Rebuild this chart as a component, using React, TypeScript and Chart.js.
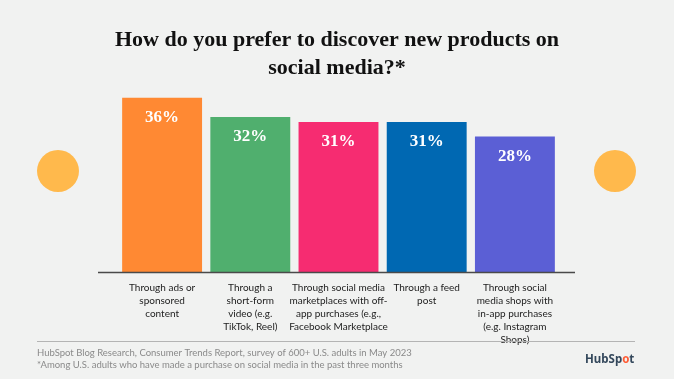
import React, { useEffect, useRef } from "react";
import { Chart, registerables } from "chart.js";

Chart.register(...registerables);

const categories: string[][] = [
  ["Through ads or", "sponsored", "content"],
  ["Through a", "short-form", "video (e.g.", "TikTok, Reel)"],
  ["Through social media", "marketplaces with off-", "app purchases (e.g.,", "Facebook Marketplace"],
  ["Through a feed", "post"],
  ["Through social", "media shops with", "in-app purchases", "(e.g. Instagram", "Shops)"],
];
const values: number[] = [36, 32, 31, 31, 28];
const barColors: string[] = ["#FF8933", "#50AF6E", "#F62C71", "#0068B2", "#5B5FD5"];
const titleLines: string[] = ["How do you prefer to discover new products on", "social media?*"];
const footnotes: string[] = [
  "HubSpot Blog Research, Consumer Trends Report, survey of 600+ U.S. adults in May 2023",
  "*Among U.S. adults who have made a purchase on social media in the past three months",
];

const BG = "#F1F2F1";

const decorPlugin = {
  id: "decor",
  beforeDraw(chart: any) {
    const ctx = chart.ctx;
    ctx.save();
    ctx.fillStyle = BG;
    ctx.fillRect(0, 0, chart.width, chart.height);
    ctx.fillStyle = "#FFB94C";
    ctx.beginPath();
    ctx.arc(58, 171, 21, 0, Math.PI * 2);
    ctx.fill();
    ctx.beginPath();
    ctx.arc(615, 171, 21, 0, Math.PI * 2);
    ctx.fill();
    ctx.restore();
  },
  afterDraw(chart: any) {
    const ctx = chart.ctx;
    const area = chart.chartArea;
    ctx.save();
    ctx.fillStyle = "#111";
    ctx.textAlign = "center";
    ctx.textBaseline = "middle";
    ctx.font = "bold 22px 'Liberation Serif'";
    ctx.fillText(titleLines[0], 337, 40);
    ctx.fillText(titleLines[1], 337, 68);
    ctx.strokeStyle = "#4a4a4a";
    ctx.lineWidth = 1.5;
    ctx.beginPath();
    ctx.moveTo(98, area.bottom + 0.5);
    ctx.lineTo(575, area.bottom + 0.5);
    ctx.stroke();
    const meta = chart.getDatasetMeta(0);
    ctx.fillStyle = "#ffffff";
    ctx.font = "bold 17px 'Liberation Serif'";
    meta.data.forEach((bar: any, i: number) => {
      ctx.fillText(values[i] + "%", bar.x, bar.y + 20);
    });
    ctx.strokeStyle = "#b4b4b4";
    ctx.lineWidth = 1;
    ctx.beginPath();
    ctx.moveTo(37, 341.5);
    ctx.lineTo(635, 341.5);
    ctx.stroke();
    ctx.fillStyle = "#8a8a8a";
    ctx.textAlign = "left";
    ctx.font = "9.5px Lato";
    ctx.fillText(footnotes[0], 37, 353);
    ctx.fillText(footnotes[1], 37, 365);
    ctx.font = "bold 11.5px 'Noto Sans'";
    let x = 585;
    const y = 360;
    const dark = "#33475B";
    const segs: [string, string][] = [["HubSp", dark], ["o", "#FF5C35"], ["t", dark]];
    segs.forEach(([t, c]) => {
      ctx.fillStyle = c;
      ctx.fillText(t, x, y);
      x += ctx.measureText(t).width;
    });
    ctx.restore();
  },
};

export default function App() {
  const ref = useRef<HTMLCanvasElement | null>(null);
  useEffect(() => {
    document.body.style.margin = "0";
    document.body.style.background = BG;
    if (!ref.current) return;
    const chart = new Chart(ref.current, {
      type: "bar",
      data: {
        labels: categories,
        datasets: [
          {
            data: values,
            backgroundColor: barColors,
            borderWidth: 0,
            barPercentage: 0.906,
            categoryPercentage: 1,
          },
        ],
      },
      options: {
        animation: false,
        responsive: false,
        maintainAspectRatio: false,
        layout: { padding: { left: 118, right: 115, top: 88, bottom: 0 } },
        plugins: {
          legend: { display: false },
          tooltip: { enabled: false },
          title: { display: false },
        },
        scales: {
          x: {
            grid: { display: false, drawTicks: false },
            border: { display: false },
            afterFit: (scale: any) => {
              scale.height = 107;
            },
            ticks: {
              color: "#222",
              padding: 9,
              maxRotation: 0,
              autoSkip: false,
              font: { family: "Lato", size: 10, lineHeight: 1.3 },
            },
          },
          y: {
            display: false,
            min: 0,
            max: 38,
          },
        },
      },
      plugins: [decorPlugin],
    });
    return () => chart.destroy();
  }, []);
  return (
    <div style={{ width: 674, height: 379, background: BG }}>
      <canvas ref={ref} width={674} height={379} style={{ display: "block" }} />
    </div>
  );
}
